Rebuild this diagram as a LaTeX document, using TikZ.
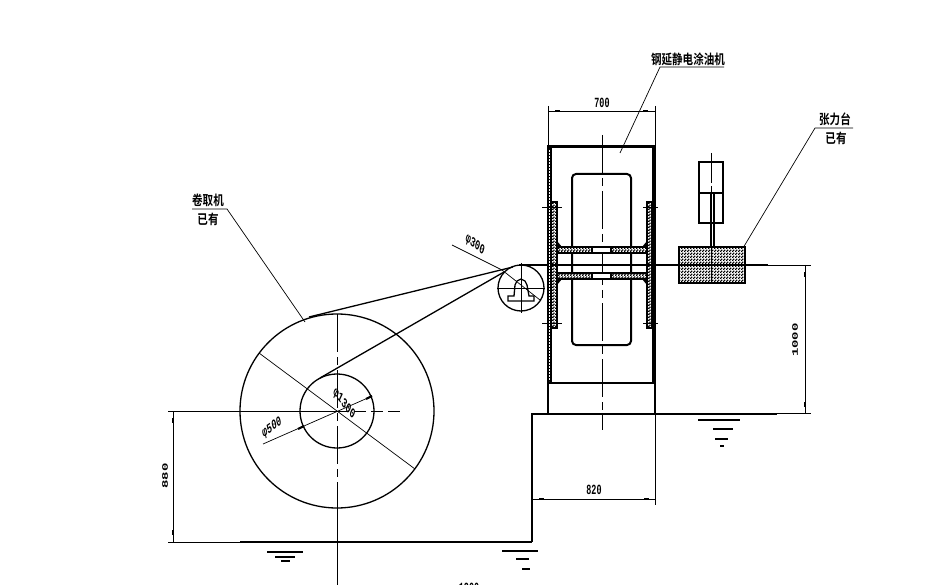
\documentclass[tikz,border=0pt]{standalone}
\usepackage{fontspec}
\usepackage{tikz}
\usetikzlibrary{patterns}
\newfontfamily\cjkfont{Noto Sans CJK SC Bold}
\setmainfont{Liberation Mono}
\pgfdeclarepatternformonly{finechecker}{\pgfqpoint{0pt}{0pt}}{\pgfqpoint{3pt}{3pt}}{\pgfqpoint{3pt}{3pt}}{
	\pgfpathrectangle{\pgfqpoint{0pt}{0pt}}{\pgfqpoint{1.9pt}{1.9pt}}
	\pgfpathrectangle{\pgfqpoint{1.5pt}{1.5pt}}{\pgfqpoint{1.5pt}{1.5pt}}
	\pgfusepath{fill}
}
\tikzset{
	thinline/.style={line width=0.7pt},
	midline/.style={line width=1.3pt},
	thickline/.style={line width=2pt},
	centerline/.style={line width=0.8pt, dash pattern=on 38pt off 5pt on 8pt off 5pt},
	tickmark/.style={line width=2.2pt},
	hatched/.style={draw=black, line width=1.4pt, pattern=finechecker},
	dimtext/.style={font=\bfseries\fontsize{14}{14}\selectfont, inner sep=0pt, xscale=0.6, transform shape},
	cjktext/.style={font=\cjkfont\fontsize{13.5}{14}\selectfont, inner sep=0pt, xscale=0.78, transform shape}
}
\begin{document}
\begin{tikzpicture}[x=1pt, y=-1pt]
	\useasboundingbox (0,0) rectangle (942,585);
	\clip (0,0) rectangle (942,585);

	\draw[midline] (337,411) circle (97pt);
	\draw[midline] (337,411) circle (37pt);
	\draw[centerline] (337,314) -- (337,500);
	\draw[thinline] (337,500) -- (337,585);
	\draw[thinline] (168,411) -- (337,411);
	\draw[thinline, dash pattern=on 12pt off 5pt] (337,411) -- (400,411);
	\draw[thinline] (259,353) -- (415,469);
	\draw[thinline] (263,444) -- (370,397);
	\draw[tickmark] (366,399) -- (372,396);
	\draw[tickmark] (298,429) -- (304,426);

	\draw[midline] (309,317) -- (513,267);
	\draw[midline] (320,378) -- (504,272);
	\draw[midline] (519,265) -- (768,265);
	\draw[midline] (521,288) circle (23pt);
	\draw[thinline] (497,288) -- (545,288);
	\draw[thinline] (521,263) -- (521,313);
	\draw[midline] (508,301) -- (534,301) -- (534,296) -- (529,296) -- (527,285) -- (525,281) -- (521,279) -- (517,281) -- (515,285) -- (514,296) -- (508,296) -- cycle;
	\draw[thinline] (452,245) -- (502,270) -- (540,300);

	\fill (547,145) rectangle (552,383);
	\draw[white, line width=1pt, dash pattern=on 2pt off 1pt] (549.8,150) -- (549.8,381);
	\fill (652,145) rectangle (656,383);
	\fill (547,145) rectangle (656,148.5);
	\fill (547,381.5) rectangle (656,384);
	\draw[midline] (548,384) -- (548,413);
	\draw[midline] (655,384) -- (655,413);
	\draw[thickline, rounded corners=4pt] (572,174) rectangle (631,345);
	\draw[centerline] (602,135) -- (602,430);

	\draw[hatched] (551,202) rectangle (557,328);
	\draw[hatched] (647,202) rectangle (652,328);
	\foreach \ytop in {247,273}{
		\fill[white] (557,\ytop) rectangle (647,\ytop+6);
		\draw[hatched] (557,\ytop) rectangle (592,\ytop+6);
		\draw[hatched] (611,\ytop) rectangle (647,\ytop+6);
		\draw[line width=1.4pt] (592,\ytop) rectangle (611,\ytop+6);
	}
	\fill (557,241) -- (562,247) -- (557,247) -- cycle;
	\fill (647,241) -- (642,247) -- (647,247) -- cycle;
	\fill (557,285) -- (562,279) -- (557,279) -- cycle;
	\fill (647,285) -- (642,279) -- (647,279) -- cycle;
	\foreach \ymark in {207,323}{
		\draw[thinline] (542,\ymark) -- (562,\ymark);
		\draw[thinline] (643,\ymark) -- (658,\ymark);
	}

	\draw[hatched, line width=1.8pt] (679,247) rectangle (745,283);
	\draw[thinline] (711,247) -- (711,283);
	\draw[midline] (699,162) rectangle (723,223);
	\draw[midline] (699,193) -- (723,193);
	\draw[midline] (711,193) -- (711,247);
	\draw[midline] (714,193) -- (714,247);
	\draw[thinline, dash pattern=on 30pt off 3pt] (711,153) -- (711,192);
	\draw[midline] (679,265) -- (768,265);

	\draw[thickline] (532,413.5) -- (777,413.5);
	\draw[thinline] (777,413.5) -- (811,413.5);
	\draw[thickline] (532,413) -- (532,542);
	\draw[thickline] (240,542) -- (532,542);
	\draw[thinline] (168,542) -- (240,542);

	\draw[thinline] (548,106) -- (548,147);
	\draw[thinline] (655,106) -- (655,147);
	\draw[thinline] (548,111) -- (655,111);
	\draw[tickmark] (555,111) -- (560,111);
	\draw[tickmark] (643,111) -- (648,111);
	\draw[thinline] (655,413) -- (655,505);
	\draw[thinline] (532,499) -- (655,499);
	\draw[tickmark] (539,499) -- (544,499);
	\draw[tickmark] (644,499) -- (649,499);
	\draw[thinline] (768,265) -- (811,265);
	\draw[thinline] (805,265) -- (805,413);
	\draw[tickmark] (805,272) -- (805,277);
	\draw[tickmark] (805,402) -- (805,407);
	\draw[thinline] (173,411) -- (173,542);
	\draw[tickmark] (173,418) -- (173,423);
	\draw[tickmark] (173,530) -- (173,535);

	\draw[thinline] (620,153) -- (660,67) -- (724,67);
	\draw[thinline] (743,248) -- (815,128) -- (853,128);
	\draw[thinline] (192,209) -- (227,209) -- (305,322);

	\draw[thickline] (267,552) -- (303,552);
	\draw[thickline] (275,557) -- (295,557);
	\draw[thickline] (281,561) -- (290,561);
	\draw[midline] (502,551) -- (538,551);
	\draw[midline] (516,559) -- (529,559);
	\draw[midline] (522,569) -- (530,569);
	\draw[midline] (698,420) -- (740,420);
	\draw[midline] (713,429) -- (733,429);
	\draw[midline] (715,439) -- (728,439);
	\draw[midline] (720,446) -- (724,446);

	\node[cjktext] (machinelabel) at (688,59) {钢延静电涂油机};
	\node[cjktext] (tensionlabel) at (835,119) {张力台};
	\node[cjktext] (tensionnote) at (836,138) {已有};
	\node[cjktext] (winderlabel) at (208,200) {卷取机};
	\node[cjktext] (windernote) at (208,219) {已有};
	\node[dimtext] (dimwidth) at (602,103) {700};
	\node[dimtext] (dimbase) at (594,490) {820};
	\node[dimtext, rotate=90] (dimheight) at (795,340) {1000};
	\node[dimtext, rotate=90] (dimfloor) at (165,476) {880};
	\node[dimtext] (dimbottom) at (469,588) {1200};
	\node[dimtext, rotate=-27] (dimroller) at (475,245) {φ300};
	\node[dimtext, rotate=-37] (dimouter) at (344,404) {φ1300};
	\node[dimtext, rotate=23] (diminner) at (272,428) {φ500};
\end{tikzpicture}
\end{document}
